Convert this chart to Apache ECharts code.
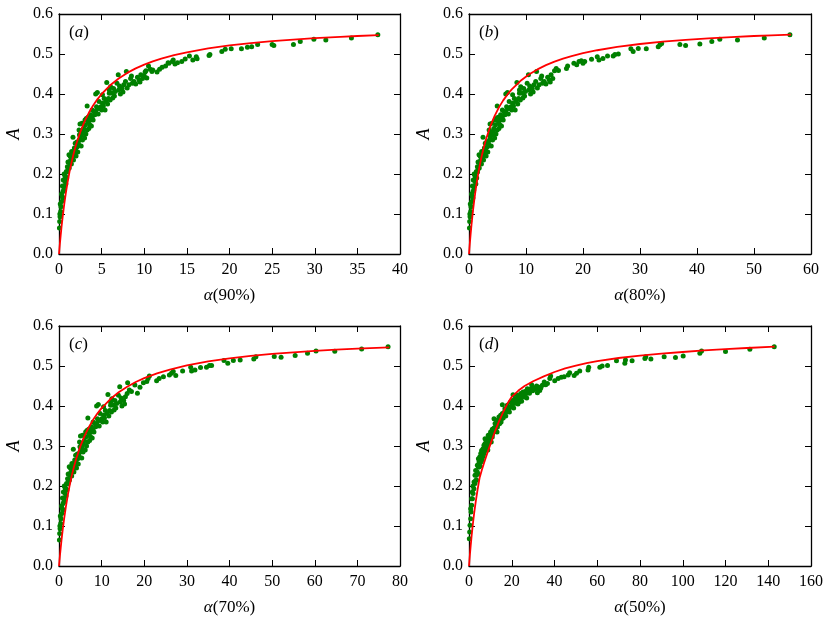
<!DOCTYPE html>
<html>
<head>
<meta charset="utf-8">
<script src="https://cdn.jsdelivr.net/npm/echarts@6/dist/echarts.min.js"></script>
<style>
html,body{margin:0;padding:0;background:#fff;}
#chart{width:830px;height:622px;}
</style>
</head>
<body>
<div id="chart"></div>
<script>
// ---------- Data ----------
const panelLabels = ['a', 'b', 'c', 'd'];
const xNames = ['90%', '80%', '70%', '50%'];
const xMaxes = [40, 60, 80, 160];
const xIntervals = [5, 10, 10, 20];
const yTicks = [0, 0.1, 0.2, 0.3, 0.4, 0.5, 0.6];

const scatterA = [
[0.05,0.065],[0.08,0.081],[0.1,0.1],[0.12,0.093],[0.15,0.125],[0.2,0.106],[0.23,0.118],[0.3,0.15],[0.31,0.131],[0.39,0.143],
[0.4,0.17],[0.45,0.14],[0.47,0.156],[0.5,0.185],[0.55,0.16],[0.59,0.168],[0.6,0.2],[0.7,0.181],[0.7,0.195],[0.78,0.193],
[0.8,0.175],[0.86,0.206],[0.9,0.19],[0.98,0.218],[1.0,0.205],[1.05,0.23],[1.09,0.214],[1.17,0.248],[1.2,0.215],[1.25,0.227],
[1.3,0.245],[1.37,0.235],[1.45,0.225],[1.48,0.256],[1.56,0.243],[1.6,0.255],[1.64,0.292],[1.7,0.235],[1.76,0.252],[1.8,0.265],
[1.9,0.277],[1.95,0.26],[2.0,0.245],[2.1,0.28],[2.15,0.268],[2.2,0.255],[2.27,0.277],[2.35,0.31],[2.4,0.285],[2.4,0.298],
[2.46,0.325],[2.5,0.293],[2.55,0.305],[2.6,0.27],[2.65,0.298],[2.7,0.327],[2.75,0.285],[2.8,0.306],[2.9,0.314],[3.0,0.29],
[3.05,0.335],[3.1,0.323],[3.15,0.3],[3.2,0.339],[3.3,0.31],[3.3,0.37],[3.4,0.342],[3.45,0.33],[3.5,0.314],[3.6,0.323],
[3.7,0.335],[3.7,0.348],[3.8,0.32],[3.9,0.343],[3.9,0.36],[4.0,0.335],[4.1,0.356],[4.2,0.348],[4.3,0.4],[4.3,0.355],
[4.4,0.368],[4.5,0.364],[4.5,0.404],[4.6,0.35],[4.7,0.364],[4.7,0.381],[4.9,0.368],[5.0,0.36],[5.1,0.377],[5.1,0.398],
[5.2,0.37],[5.3,0.389],[5.4,0.36],[5.5,0.381],[5.6,0.429],[5.7,0.375],[5.8,0.389],[5.9,0.402],[5.9,0.41],[6.0,0.385],
[6.05,0.418],[6.25,0.402],[6.3,0.39],[6.4,0.414],[6.5,0.395],[6.6,0.406],[6.8,0.427],[6.95,0.448],[7.0,0.41],[7.1,0.42],
[7.2,0.4],[7.4,0.414],[7.5,0.405],[7.6,0.423],[7.8,0.431],[7.9,0.456],[8.0,0.415],[8.2,0.423],[8.4,0.439],[8.5,0.445],
[8.6,0.427],[8.8,0.431],[9.0,0.425],[9.2,0.442],[9.4,0.435],[9.5,0.43],[9.6,0.448],[9.8,0.439],[10.0,0.445],[10.1,0.455],
[10.2,0.458],[10.3,0.44],[10.5,0.47],[10.7,0.462],[10.9,0.456],[11.0,0.46],[11.5,0.455],[11.8,0.462],[12.1,0.467],[12.5,0.47],
[12.8,0.478],[12.9,0.477],[13.3,0.481],[13.4,0.485],[13.6,0.475],[13.9,0.478],[14.4,0.481],[14.8,0.4875],
[15.3,0.495],[15.7,0.485],[16.1,0.493],[16.2,0.488],[17.6,0.496],[17.7,0.499],[19.1,0.506],[19.5,0.512],[20.2,0.513],[21.4,0.513],
[22.1,0.517],[22.6,0.518],[23.3,0.524],[25.0,0.524],[25.2,0.521],[27.5,0.524],[28.3,0.531],[29.9,0.537],[31.3,0.535],[34.3,0.54],[37.4,0.548]
];
const curveA = [
[0,0],[0.05,0.0126],[0.1,0.0247],[0.2,0.0473],[0.3,0.0682],[0.45,0.0967],[0.6,0.1221],[0.8,0.1521],[1,0.1785],[1.25,0.2071],
[1.5,0.232],[1.75,0.2538],[2,0.2729],[2.5,0.3053],[3,0.3314],[3.5,0.353],[4,0.3712],[4.5,0.3867],[5,0.4],[6,0.4218],
[7,0.4389],[8,0.4527],[9,0.464],[10,0.4735],[11,0.4815],[12,0.4884],[13.5,0.4971],[15,0.5043],[17.5,0.5139],[20,0.5213],
[22.5,0.5273],[25,0.5321],[27.5,0.5361],[30,0.5395],[33,0.543],[35,0.545],[37.5,0.5472]
];

const scatterB = [
[0.08,0.065],[0.12,0.081],[0.15,0.1],[0.18,0.093],[0.23,0.125],[0.3,0.106],[0.35,0.118],[0.45,0.15],[0.47,0.131],[0.59,0.143],
[0.6,0.17],[0.68,0.14],[0.71,0.156],[0.75,0.185],[0.83,0.16],[0.89,0.168],[0.9,0.2],[1.05,0.181],[1.05,0.195],[1.17,0.193],
[1.2,0.175],[1.29,0.206],[1.35,0.19],[1.47,0.218],[1.5,0.205],[1.58,0.23],[1.64,0.214],[1.76,0.248],[1.8,0.215],[1.88,0.227],
[1.95,0.245],[2.06,0.235],[2.18,0.225],[2.22,0.256],[2.34,0.243],[2.4,0.255],[2.46,0.292],[2.55,0.235],[2.64,0.252],[2.7,0.265],
[2.85,0.277],[2.93,0.26],[3.0,0.245],[3.15,0.28],[3.23,0.268],[3.3,0.255],[3.41,0.277],[3.53,0.31],[3.6,0.285],[3.6,0.298],
[3.69,0.325],[3.75,0.293],[3.83,0.305],[3.9,0.27],[3.98,0.298],[4.05,0.327],[4.13,0.285],[4.2,0.306],[4.35,0.314],[4.5,0.29],
[4.58,0.335],[4.65,0.323],[4.73,0.3],[4.8,0.339],[4.95,0.31],[4.95,0.37],[5.1,0.342],[5.18,0.33],[5.25,0.314],[5.4,0.323],
[5.55,0.335],[5.55,0.348],[5.7,0.32],[5.85,0.343],[5.85,0.36],[6.0,0.335],[6.15,0.356],[6.3,0.348],[6.45,0.4],[6.45,0.355],
[6.6,0.368],[6.75,0.364],[6.75,0.404],[6.9,0.35],[7.05,0.364],[7.05,0.381],[7.35,0.368],[7.5,0.36],[7.65,0.377],[7.65,0.398],
[7.8,0.37],[7.95,0.389],[8.1,0.36],[8.25,0.381],[8.4,0.429],[8.55,0.375],[8.7,0.389],[8.85,0.402],[8.85,0.41],[9.0,0.385],
[9.08,0.418],[9.38,0.402],[9.45,0.39],[9.6,0.414],[9.75,0.395],[9.9,0.406],[10.2,0.427],[10.43,0.448],[10.5,0.41],[10.65,0.42],
[10.8,0.4],[11.1,0.414],[11.25,0.405],[11.4,0.423],[11.7,0.431],[11.85,0.456],[12.0,0.415],[12.3,0.423],[12.6,0.439],[12.75,0.445],
[12.9,0.427],[13.2,0.431],[13.5,0.425],[13.8,0.442],[14.1,0.435],[14.25,0.43],[14.4,0.448],[14.7,0.439],
[15.0,0.458],[15.3,0.464],[15.7,0.459],[17.1,0.464],[17.3,0.47],[18.4,0.477],[18.9,0.473],[19.3,0.481],[19.7,0.483],[20.0,0.477],
[20.3,0.481],[21.5,0.487],[22.5,0.493],[22.8,0.485],[23.5,0.489],[24.3,0.495],[25.3,0.495],[25.6,0.499],[26.2,0.5],[28.4,0.513],
[28.8,0.506],[29.7,0.514],[31.1,0.513],[33.2,0.518],[33.5,0.523],[33.8,0.526],[37.0,0.524],[38.0,0.521],[40.5,0.525],[42.6,0.531],
[44.0,0.537],[47.1,0.535],[51.8,0.54],[56.3,0.548]
];
const curveB = [
[0,0],[0.075,0.014],[0.15,0.0273],[0.3,0.0521],[0.45,0.0747],[0.675,0.1053],[0.9,0.1324],[1.2,0.164],[1.5,0.1914],[1.9,0.2228],
[2.25,0.2463],[2.6,0.2669],[3,0.2876],[3.75,0.3197],[4.5,0.3454],[5.25,0.3665],[6,0.3841],[6.75,0.3989],[7.5,0.4117],[9,0.4324],
[10.5,0.4486],[12,0.4615],[13.5,0.4721],[15,0.4809],[16.5,0.4883],[18,0.4947],[20,0.502],[22.5,0.5094],[26,0.5177],[30,0.525],
[34,0.5307],[38,0.5353],[42,0.5391],[46,0.5423],[50,0.545],[53,0.5467],[56.5,0.5486]
];

const scatterC = [
[0.1,0.065],[0.16,0.081],[0.21,0.1],[0.25,0.093],[0.31,0.125],[0.41,0.106],[0.47,0.118],[0.62,0.15],[0.64,0.131],[0.8,0.143],
[0.82,0.17],[0.92,0.14],[0.96,0.156],[1.03,0.185],[1.13,0.16],[1.21,0.168],[1.23,0.2],[1.44,0.181],[1.44,0.195],[1.6,0.193],
[1.64,0.175],[1.76,0.206],[1.85,0.19],[2.01,0.218],[2.05,0.205],[2.15,0.23],[2.23,0.214],[2.4,0.248],[2.46,0.215],[2.56,0.227],
[2.67,0.245],[2.81,0.235],[2.97,0.225],[3.03,0.256],[3.2,0.243],[3.28,0.255],[3.36,0.292],[3.49,0.235],[3.61,0.252],[3.69,0.265],
[3.9,0.277],[4.0,0.26],[4.1,0.245],[4.31,0.28],[4.41,0.268],[4.51,0.255],[4.65,0.277],[4.82,0.31],[4.92,0.285],[4.92,0.298],
[5.04,0.325],[5.13,0.293],[5.23,0.305],[5.33,0.27],[5.43,0.298],[5.54,0.327],[5.64,0.285],[5.74,0.306],[5.95,0.314],[6.15,0.29],
[6.25,0.335],[6.36,0.323],[6.46,0.3],[6.56,0.339],[6.77,0.31],[6.77,0.37],[6.97,0.342],[7.07,0.33],[7.18,0.314],[7.38,0.323],
[7.59,0.335],[7.59,0.348],[7.79,0.32],[8.0,0.343],[8.0,0.36],[8.2,0.335],[8.41,0.356],[8.61,0.348],[8.82,0.4],[8.82,0.355],
[9.02,0.368],[9.23,0.364],[9.23,0.404],[9.43,0.35],[9.64,0.364],[9.64,0.381],[10.05,0.368],[10.25,0.36],[10.46,0.377],[10.46,0.398],
[10.66,0.37],[10.87,0.389],[11.07,0.36],[11.28,0.381],[11.48,0.429],[11.69,0.375],[11.89,0.389],[12.1,0.402],[12.1,0.41],[12.3,0.385],
[12.4,0.418],[12.81,0.402],[12.92,0.39],[13.12,0.414],[13.33,0.395],[13.53,0.406],[13.94,0.427],[14.25,0.448],[14.35,0.41],[14.56,0.42],
[14.76,0.4],[15.17,0.414],[15.38,0.405],[15.58,0.423],[15.99,0.431],
[16.1,0.458],[16.5,0.44],[17.0,0.436],[17.8,0.4525],[18.4,0.432],[19.0,0.447],[19.8,0.458],[20.6,0.461],[20.9,0.469],[21.2,0.475],
[22.9,0.463],[23.5,0.469],[24.5,0.473],[25.9,0.4775],[26.4,0.482],[26.8,0.486],[27.4,0.476],[29.0,0.4875],[30.9,0.497],[31.1,0.4875],
[31.9,0.49],[33.2,0.496],[34.6,0.497],[35.3,0.501],[35.8,0.501],[38.7,0.514],[39.6,0.507],[40.9,0.514],[42.5,0.515],[45.7,0.5175],
[46.2,0.523],[50.5,0.524],[52.1,0.522],[55.4,0.526],[58.3,0.532],[60.3,0.5375],[64.7,0.537],[71.0,0.5425],[77.2,0.548]
];
const curveC = [
[0,0],[0.1,0.0121],[0.2,0.0237],[0.4,0.0455],[0.6,0.0657],[0.9,0.0932],[1.2,0.118],[1.6,0.1473],[2,0.1731],[2.5,0.2014],
[3,0.226],[3.5,0.2476],[4,0.2667],[5,0.299],[6,0.3252],[7,0.347],[8,0.3654],[9,0.381],[10,0.3946],[12,0.4168],
[14,0.4342],[16,0.4483],[18,0.4599],[20,0.4696],[23,0.4816],[26,0.4912],[30,0.5014],[35,0.5113],[40,0.519],[45,0.5252],
[50,0.5302],[55,0.5343],[60,0.5379],[65,0.5409],[70,0.5435],[77.5,0.5468]
];

const scatterD = [
[0.16,0.068],[0.31,0.085],[0.47,0.102],[0.78,0.118],[0.78,0.143],[0.94,0.135],[1.25,0.152],[1.25,0.168],[1.56,0.185],[1.6,0.168],
[1.87,0.2],[1.9,0.181],[2.3,0.193],[2.34,0.21],[2.8,0.206],[2.8,0.227],[3.1,0.214],[3.1,0.239],[3.4,0.227],[3.5,0.215],
[3.9,0.235],[3.9,0.252],[4.2,0.23],[4.4,0.268],[4.4,0.2475],[4.7,0.2475],[4.7,0.26],[5.0,0.2725],[5.2,0.25],[5.5,0.26],
[5.5,0.281],[5.8,0.262],[5.9,0.289],[6.2,0.268],[6.2,0.285],[6.55,0.293],[6.6,0.275],[7.0,0.281],[7.0,0.302],[7.2,0.29],
[7.5,0.318],[7.5,0.306],[7.8,0.289],[8.0,0.3],[8.1,0.314],[8.6,0.2975],[8.6,0.318],[8.8,0.29],[9.0,0.327],[9.0,0.306],
[9.4,0.31],[9.6,0.315],[9.7,0.328],[10.1,0.318],[10.1,0.335],[10.4,0.31],[10.6,0.331],[10.9,0.3225],[10.9,0.342],[11.0,0.33],
[11.2,0.335],[11.7,0.368],[11.7,0.345],[11.9,0.34],[12.2,0.356],[12.5,0.339],[12.6,0.35],[12.8,0.364],[13.1,0.335],[13.3,0.3475],
[13.7,0.36],[13.9,0.355],[14.0,0.3725],[14.4,0.356],[14.6,0.365],[14.8,0.377],[15.0,0.36],[15.3,0.368],[15.6,0.403],[15.6,0.381],
[16.0,0.37],[16.4,0.377],[16.6,0.385],[16.8,0.393],[17.2,0.375],[17.5,0.385],[17.9,0.402],[18.0,0.39],[18.4,0.389],[18.7,0.393],
[18.9,0.385],[19.5,0.3975],[19.5,0.41],[19.9,0.4],[20.3,0.414],[20.6,0.428],[20.9,0.395],[21.1,0.406],[21.5,0.418],[21.8,0.408],
[22.2,0.414],[22.6,0.427],[22.9,0.405],[23.4,0.41],[23.4,0.4225],[23.8,0.415],[24.2,0.418],[24.2,0.431],[24.6,0.412],[25.0,0.425],
[25.3,0.435],[25.7,0.4225],[26.0,0.425],[26.5,0.437],[26.8,0.431],[27.0,0.42],[27.3,0.443],[27.8,0.435],[28.3,0.432],[28.9,0.443],
[29.3,0.453],[29.8,0.438],[30.4,0.445],[31.2,0.442],[31.6,0.45],[32.0,0.433],[32.4,0.4475],[33.1,0.439],[33.6,0.445],[34.3,0.452],
[35.2,0.46],[35.9,0.453],[36.7,0.456],
[37.8,0.469],[38.2,0.475],[40.1,0.463],[41.7,0.469],[43.2,0.472],[44.5,0.473],[46.4,0.4775],[47.1,0.483],[49.2,0.476],[50.3,0.482],
[51.8,0.4875],[55.7,0.49],[56.0,0.497],[61.2,0.497],[62.3,0.5],[64.8,0.501],[69.0,0.513],[72.9,0.507],[73.2,0.515],[76.3,0.513],
[82.3,0.519],[82.7,0.523],[85.1,0.5175],[91.3,0.523],[96.6,0.521],[100.2,0.525],[108.0,0.532],[108.8,0.5375],[120.0,0.536],[131.4,0.542],[142.8,0.548]
];
const curveD = [
[0,0],[0.2,0.0138],[0.4,0.027],[0.8,0.0516],[1.2,0.074],[1.8,0.1044],[2.4,0.1313],[3.2,0.1628],[4,0.1902],[5,0.2215],
[6,0.24],[7,0.257],[8,0.273],[9,0.289],[10,0.304],[12,0.334],[14,0.361],[16,0.385],[18,0.406],[20,0.423],
[23,0.438],[26,0.45],[30,0.462],[35,0.474],[40,0.485],[45,0.494],[50,0.501],[55,0.507],[60,0.512],[70,0.52],
[80,0.526],[90,0.531],[100,0.535],[110,0.539],[120,0.542],[130,0.545],[143,0.5485]
];

// ---------- Layout ----------
const scatters = [scatterA, scatterB, scatterC, scatterD];
const curves = [curveA, curveB, curveC, curveD];
const grids = [
  {left: 59, top: 14, width: 341, height: 240},
  {left: 469, top: 14, width: 342, height: 240},
  {left: 59, top: 326, width: 341, height: 240},
  {left: 469, top: 326, width: 342, height: 240}
];
const FONT = 'Liberation Serif';
const lineStyle = {color: '#000', width: 1.3};

const xAxes = [], yAxes = [], series = [], graphics = [];
grids.forEach((g, i) => {
  const common = {min: 0, max: xMaxes[i], interval: xIntervals[i], gridIndex: i, type: 'value'};
  xAxes.push(Object.assign({}, common, {
    position: 'bottom',
    axisLine: {show: true, onZero: false, lineStyle},
    axisTick: {show: true, inside: true, length: 6, lineStyle: {color: '#000', width: 1}},
    axisLabel: {show: true, color: '#000', fontFamily: FONT, fontSize: 16, margin: 8},
    splitLine: {show: false},
    name: '{i|α}(' + xNames[i] + ')',
    nameLocation: 'middle',
    nameGap: 33,
    nameTextStyle: {color: '#000', fontFamily: FONT, fontSize: 17,
      rich: {i: {fontStyle: 'italic', fontFamily: FONT, fontSize: 17, color: '#000'}}}
  }));
  xAxes.push(Object.assign({}, common, {
    position: 'top',
    axisLine: {show: true, onZero: false, lineStyle},
    axisTick: {show: true, inside: true, length: 6, lineStyle: {color: '#000', width: 1}},
    axisLabel: {show: false},
    splitLine: {show: false}
  }));
  const ycommon = {min: 0, max: 0.6, interval: 0.1, gridIndex: i, type: 'value'};
  yAxes.push(Object.assign({}, ycommon, {
    position: 'left',
    axisLine: {show: true, onZero: false, lineStyle},
    axisTick: {show: true, inside: true, length: 6, lineStyle: {color: '#000', width: 1}},
    axisLabel: {show: true, color: '#000', fontFamily: FONT, fontSize: 16, margin: 6,
      formatter: v => v.toFixed(1)},
    splitLine: {show: false},
    name: 'A',
    nameLocation: 'middle',
    nameGap: 36,
    nameRotate: 90,
    nameTextStyle: {color: '#000', fontFamily: FONT, fontSize: 18, fontStyle: 'italic'}
  }));
  yAxes.push(Object.assign({}, ycommon, {
    position: 'right',
    axisLine: {show: true, onZero: false, lineStyle},
    axisTick: {show: true, inside: true, length: 6, lineStyle: {color: '#000', width: 1}},
    axisLabel: {show: false},
    splitLine: {show: false}
  }));
  series.push({
    type: 'scatter',
    xAxisIndex: 2 * i, yAxisIndex: 2 * i,
    data: scatters[i],
    symbol: 'circle',
    symbolSize: 5,
    itemStyle: {color: '#008000', opacity: 1},
    z: 2
  });
  series.push({
    type: 'line',
    xAxisIndex: 2 * i, yAxisIndex: 2 * i,
    data: curves[i],
    showSymbol: false,
    symbol: 'none',
    smooth: false,
    lineStyle: {color: '#ff0000', width: 1.8},
    z: 3
  });
  graphics.push({
    type: 'text',
    left: g.left + 10,
    top: g.top + 10,
    style: {
      text: '({i|' + panelLabels[i] + '})',
      fontFamily: FONT, fontSize: 17, fill: '#000',
      rich: {i: {fontStyle: 'italic', fontFamily: FONT, fontSize: 17, color: '#000'}}
    }
  });
});

const chart = echarts.init(document.getElementById('chart'), null, {renderer: 'canvas'});
chart.setOption({
  animation: false,
  backgroundColor: '#fff',
  grid: grids,
  xAxis: xAxes,
  yAxis: yAxes,
  series: series,
  graphic: graphics
});
</script>
</body>
</html>
